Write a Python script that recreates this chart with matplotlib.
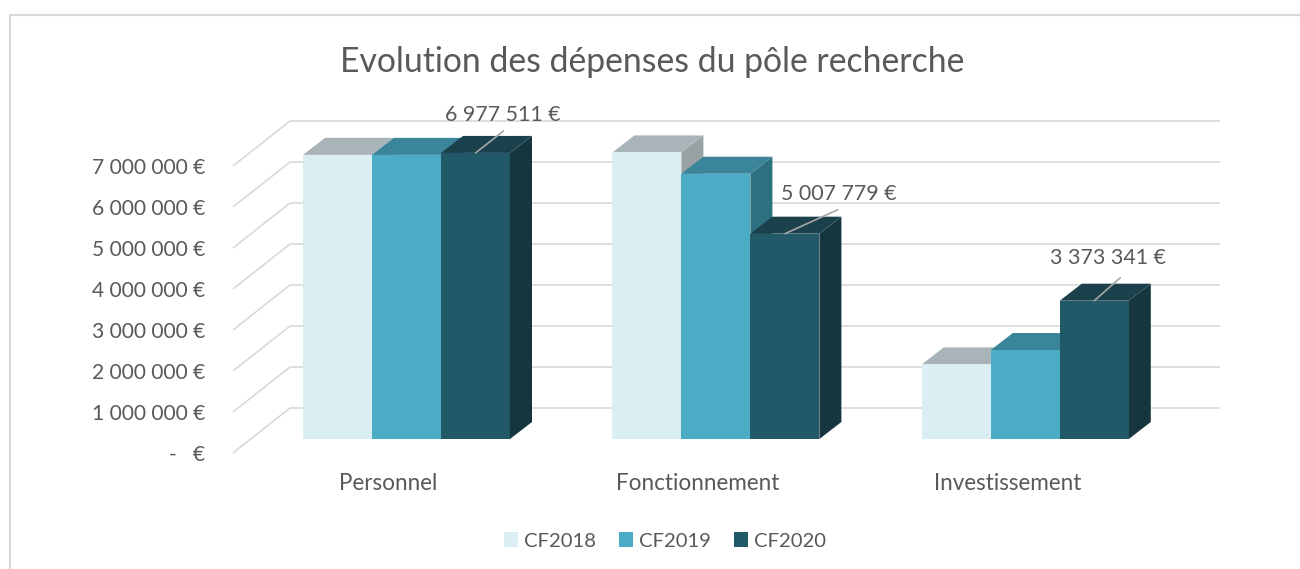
import matplotlib
matplotlib.use("Agg")
import matplotlib.pyplot as plt
from matplotlib.patches import Polygon, Patch
from matplotlib.lines import Line2D
from matplotlib.textpath import TextPath
from matplotlib.font_manager import FontProperties
import numpy as np

# ---------------- data ----------------
categories = ["Personnel", "Fonctionnement", "Investissement"]
series_names = ["CF2018", "CF2019", "CF2020"]
cf2018 = [6_930_000, 6_990_000, 1_820_000]
cf2019 = [6_930_000, 6_470_000, 2_170_000]
cf2020 = [6_977_511, 5_007_779, 3_373_341]
y_ticks = [0, 1_000_000, 2_000_000, 3_000_000, 4_000_000, 5_000_000, 6_000_000, 7_000_000]
title = "Evolution des dépenses du pôle recherche"

# ---------------- style ----------------
FAMILY = "Lato"
TEXT_C = "#595959"
GRID_C = "#d9d9d9"
front_c = ["#DAEEF3", "#4BACC6", "#215968"]
top_c = ["#A9B4B8", "#3A8599", "#1A414C"]
side_c = ["#98A1A4", "#2E6F80", "#16363F"]

W, H, DPI = 1300, 569, 100
fig = plt.figure(figsize=(W / DPI, H / DPI), dpi=DPI)
plt.rcParams["font.family"] = [FAMILY, "DejaVu Sans"]


def fit(s, target_px):
    fp = FontProperties(family=FAMILY, size=100)
    w = TextPath((0, 0), s, prop=fp).get_extents().width
    return 100 * target_px / (w * DPI / 72)


def fmt(v):
    if v == 0:
        return "-   €"
    return f"{v:,.0f}".replace(",", " ") + " €"


# axes geometry in pixels
AX_L, AX_R, AX_B, AX_T = 233, 1220, 453, 121
PX_PER_M = 41.0
X_UNIT = 309.4
GROUP0_PX = 406.5

ax = fig.add_axes([AX_L / W, 1 - AX_B / H, (AX_R - AX_L) / W, (AX_B - AX_T) / H])
x_lo = (AX_L - GROUP0_PX) / X_UNIT
x_hi = (AX_R - GROUP0_PX) / X_UNIT
y_hi = (AX_B - AX_T) / PX_PER_M * 1e6
ax.set_xlim(x_lo, x_hi)
ax.set_ylim(0, y_hi)


def px_dx(p):
    return p / X_UNIT


def px_dy(p):
    return p / PX_PER_M * 1e6


# walls / gridlines
WALL_DX, WALL_DY = px_dx(57), px_dy(45)
for t in y_ticks:
    ax.plot([x_lo, x_lo + WALL_DX], [t, t + WALL_DY], color=GRID_C, lw=1.2,
            zorder=1, clip_on=False, solid_capstyle="butt")
    ax.plot([x_lo + WALL_DX, x_hi], [t + WALL_DY, t + WALL_DY], color=GRID_C,
            lw=1.2, zorder=1, clip_on=False, solid_capstyle="butt")

# bars
BAR_W = px_dx(69)
BAR_Y0 = px_dy(14)
DEP_DX, DEP_DY = px_dx(22), px_dy(17)
data = [cf2018, cf2019, cf2020]
xc = np.arange(len(categories))
z = 3
for i in range(len(categories)):
    for j in range(len(series_names)):
        v = data[j][i]
        x0 = xc[i] + (j - 1) * BAR_W - BAR_W / 2
        top = BAR_Y0 + v
        side = Polygon([(x0 + BAR_W, BAR_Y0), (x0 + BAR_W + DEP_DX, BAR_Y0 + DEP_DY),
                        (x0 + BAR_W + DEP_DX, top + DEP_DY), (x0 + BAR_W, top)],
                       closed=True, facecolor=side_c[j], edgecolor="none", zorder=z, clip_on=False)
        ax.add_patch(side)
        tp = Polygon([(x0, top), (x0 + BAR_W, top), (x0 + BAR_W + DEP_DX, top + DEP_DY),
                      (x0 + DEP_DX, top + DEP_DY)],
                     closed=True, facecolor=top_c[j], edgecolor="none", zorder=z + 1, clip_on=False)
        ax.add_patch(tp)
        ax.bar(x0, v, width=BAR_W, bottom=BAR_Y0, align="edge", color=front_c[j],
               edgecolor="none", zorder=z + 2, clip_on=False)
        z += 3

# data labels for CF2020
lab_fs = fit("6 977 511 €", 114)
leader_off = [(28, 22), (53, 24), (26, 23)]
text_off = [(27.5, 38), (53.5, 40), (13.5, 43)]
for i, v in enumerate(cf2020):
    xb = xc[i] + BAR_W
    yb = BAR_Y0 + v
    ax.annotate("", xy=(xb, yb), xytext=leader_off[i], textcoords="offset pixels",
                arrowprops=dict(arrowstyle="-", color="#a6a6a6", lw=1.2, shrinkA=0, shrinkB=0),
                zorder=100, annotation_clip=False)
    ax.annotate(fmt(v), xy=(xb, yb), xytext=text_off[i], textcoords="offset pixels",
                ha="center", va="center", fontsize=lab_fs, color=TEXT_C, zorder=101,
                annotation_clip=False)

# axes ticks
tick_fs = fit("7 000 000 €", 112)
ax.set_yticks(y_ticks)
ax.set_yticklabels([fmt(t) for t in y_ticks], fontsize=tick_fs, color=TEXT_C)
cat_fs = fit("Fonctionnement", 161)
ax.set_xticks(xc - px_dx(18))
ax.set_xticklabels(categories, fontsize=cat_fs, color=TEXT_C)
ax.tick_params(axis="y", length=0, pad=28 * 72 / DPI)
ax.tick_params(axis="x", length=0, pad=20 * 72 / DPI)
for s in ax.spines.values():
    s.set_visible(False)
ax.patch.set_alpha(0)

# title
fig.text(652 / W, 1 - 62 / H, title, ha="center", va="center",
         fontsize=fit(title, 620), color=TEXT_C)

# legend
leg_fs = fit("CF2018", 70)
fs_px = leg_fs * DPI / 72
handles = [Patch(facecolor=c, edgecolor="none") for c in front_c]
fig.legend(handles, series_names, loc="center", bbox_to_anchor=(665 / W, 1 - 541 / H),
           ncol=3, frameon=False, fontsize=leg_fs, labelcolor=TEXT_C,
           handlelength=14 / fs_px, handleheight=14 / fs_px,
           handletextpad=6 / fs_px, columnspacing=23 / fs_px, borderpad=0)

# outer chart frame
fig.add_artist(Line2D([10 / W, 1], [1 - 15 / H, 1 - 15 / H], color=GRID_C, lw=1.5))
fig.add_artist(Line2D([10 / W, 10 / W], [0, 1 - 15 / H], color=GRID_C, lw=1.5))

fig.savefig("out.png", dpi=DPI)
